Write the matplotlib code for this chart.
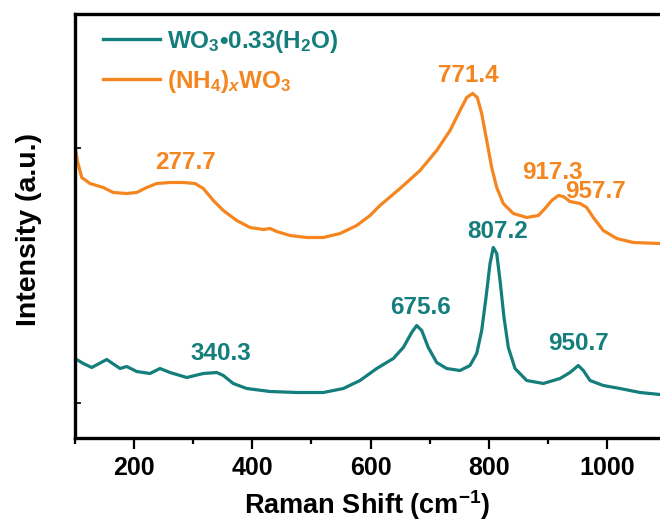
import matplotlib
matplotlib.use("Agg")
import matplotlib.pyplot as plt
from matplotlib.ticker import MultipleLocator, FixedLocator

# ---- data ----
teal_x = [100.8, 114.9, 129.1, 154.4, 176.9, 188.2, 205.1, 227.5, 244.4, 261.3, 289.5, 317.6,
          340.2, 351.4, 368.2, 390.9, 430.2, 475.3, 520.3, 554.1, 582.3, 610.5, 638.5, 655.4,
          669.6, 678.0, 686.5, 697.6, 711.8, 728.7, 751.2, 768.1, 779.4, 787.8, 795.1, 801.9,
          807.4, 813.2, 818.8, 825.5, 832.8, 844.1, 863.9, 891.9, 920.1, 937.0, 951.0, 959.5,
          970.8, 993.2, 1021.5, 1055.3, 1089]
teal_y = [79, 74, 70, 78, 69, 71, 66, 64, 69, 65, 60, 64,
          65, 62, 54, 49, 46, 45, 45, 49, 57, 69, 79, 90,
          105, 112, 107, 90, 75, 69, 67, 72, 84, 107, 140, 174,
          190, 184, 157, 120, 90, 69, 57, 54, 59, 65, 72, 67,
          57, 52, 49, 45, 43]

orange_x = [100.8, 104.7, 112.2, 126.2, 148.6, 165.5, 188.2, 205.1, 222.0, 238.9, 261.3, 283.8,
            303.5, 317.6, 334.5, 351.4, 374.0, 396.5, 419.0, 430.2, 441.6, 464.0, 492.2, 520.3,
            548.5, 576.7, 599.2, 616.0, 649.8, 683.6, 711.8, 734.3, 751.2, 762.5, 772.6, 780.4,
            787.8, 796.3, 804.7, 813.2, 824.3, 841.2, 863.9, 883.4, 894.8, 906.1, 917.3, 925.7,
            937.0, 953.9, 965.2, 976.4, 993.2, 1015.9, 1043.9, 1089]
orange_y = [292, 277, 260, 254, 250, 245, 244, 245, 250, 254, 255, 255,
            254, 249, 237, 227, 217, 210, 208, 209, 206, 202, 200, 200,
            204, 212, 222, 232, 249, 267, 287, 307, 327, 340, 344, 340,
            324, 297, 270, 250, 234, 224, 220, 222, 229, 237, 242, 241,
            236, 234, 230, 220, 207, 199, 195, 194]

series_labels = [r"WO$_3$•0.33(H$_2$O)", r"(NH$_4$)$_{\mathit{x}}$WO$_3$"]

teal_peaks = ["340.3", "675.6", "807.2", "950.7"]
teal_peak_x = [347, 685, 814.5, 951.7]
teal_peak_y = [78, 123, 200, 87]

orange_peaks = ["277.7", "771.4", "917.3", "957.7"]
orange_peak_x = [288, 765, 907, 979.7]
orange_peak_y = [269, 356, 259, 239]

xtick_values = [200, 400, 600, 800, 1000]

# ---- style ----
TEAL = "#137e7c"
ORANGE = "#f5861f"
FONT = "Liberation Sans"
plt.rcParams["font.family"] = [FONT, "DejaVu Sans"]
plt.rcParams["font.weight"] = "bold"
plt.rcParams["mathtext.fontset"] = "custom"
plt.rcParams["mathtext.rm"] = "Liberation Sans:bold"
plt.rcParams["mathtext.bf"] = "Liberation Sans:bold"
plt.rcParams["mathtext.it"] = "Liberation Sans:bold:italic"
plt.rcParams["mathtext.default"] = "rm"

fig = plt.figure(figsize=(6.60, 5.23), dpi=100)
ax = fig.add_axes([74.5 / 660, (523 - 438) / 523, 1 - 74.5 / 660, 424.5 / 523])

ax.plot(teal_x, teal_y, color=TEAL, lw=2.3, label=series_labels[0],
        solid_joinstyle="round")
ax.plot(orange_x, orange_y, color=ORANGE, lw=2.3, label=series_labels[1],
        solid_joinstyle="round")

for t, x, y in zip(teal_peaks, teal_peak_x, teal_peak_y):
    ax.text(x, y, t, color=TEAL, fontsize=17.5, fontweight="bold", ha="center", va="baseline")
for t, x, y in zip(orange_peaks, orange_peak_x, orange_peak_y):
    ax.text(x, y, t, color=ORANGE, fontsize=17.5, fontweight="bold", ha="center", va="baseline")

ax.set_xlim(100, 1089)
ax.set_ylim(-0.5, 424)

ax.xaxis.set_major_locator(FixedLocator(xtick_values))
ax.xaxis.set_minor_locator(MultipleLocator(200, offset=100))
ax.tick_params(axis="x", which="major", direction="out", length=8, width=1.6,
               labelsize=18, pad=5)
ax.tick_params(axis="x", which="minor", direction="out", length=4, width=1.6)
ax.yaxis.set_major_locator(FixedLocator([35, 290]))
ax.tick_params(axis="y", which="major", direction="in", length=4, width=1.2, labelleft=False)
for lab in ax.get_xticklabels():
    lab.set_fontweight("bold")

for side in ["left", "bottom", "top"]:
    ax.spines[side].set_linewidth(2.4)
ax.spines["right"].set_visible(False)

ax.set_xlabel("Raman Shift (cm$^{-1}$)", fontsize=19.5, fontweight="bold", labelpad=6)
ax.set_ylabel("Intensity (a.u.)", fontsize=20.5, fontweight="bold")
ax.yaxis.set_label_coords(-0.055, 0.49)

leg = ax.legend(loc="upper left", bbox_to_anchor=(0.049, 0.967), frameon=False,
                fontsize=17.5, handlelength=2.33, handletextpad=0.28,
                labelspacing=0.55, borderpad=0, borderaxespad=0)
for txt, c in zip(leg.get_texts(), [TEAL, ORANGE]):
    txt.set_color(c)
    txt.set_fontweight("bold")
for h in leg.get_lines():
    h.set_linewidth(2.4)

fig.savefig("out.png", dpi=100)
